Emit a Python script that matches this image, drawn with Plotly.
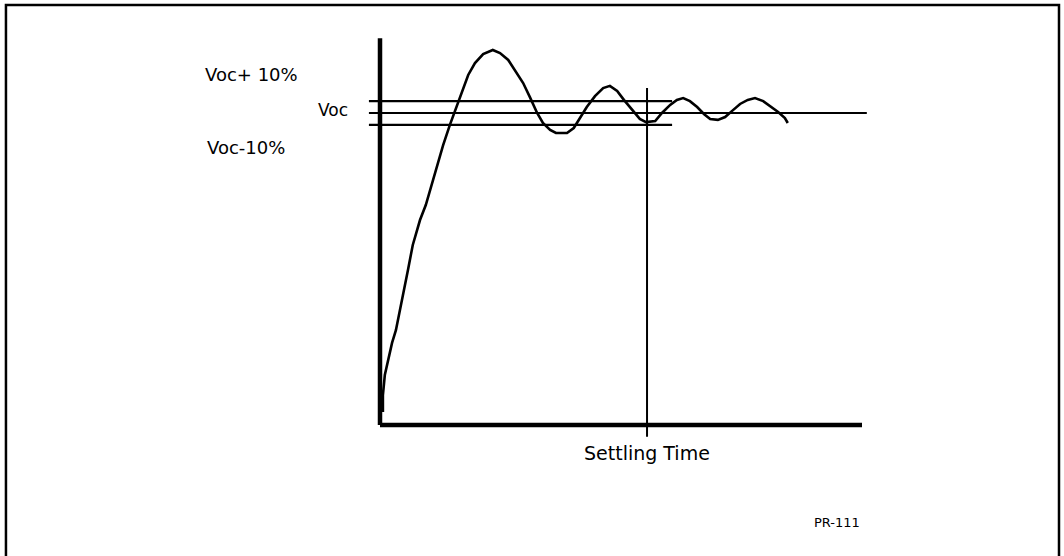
import plotly.graph_objects as go

# Response curve (time in arbitrary units, voltage normalised to Voc)
t = [0.06, 0.06, 0.10, 0.17, 0.25, 0.33, 0.46, 0.58, 0.68, 0.83, 0.95, 1.08, 1.18, 1.31,
     1.45, 1.54, 1.62, 1.72, 1.83, 1.97, 2.14, 2.34, 2.49, 2.66, 2.80, 2.97, 3.11, 3.26,
     3.38, 3.53, 3.65, 3.88, 4.02, 4.15, 4.29, 4.46, 4.63, 4.77, 4.92, 5.06, 5.23, 5.39,
     5.52, 5.71, 5.85, 6.02, 6.16, 6.29, 6.43, 6.58, 6.72, 6.85, 7.01, 7.16, 7.30, 7.47,
     7.63, 7.78, 7.95, 8.09, 8.26, 8.40, 8.46]
v = [0.042, 0.096, 0.160, 0.208, 0.263, 0.304, 0.401, 0.497, 0.577, 0.657, 0.705, 0.776,
     0.833, 0.897, 0.962, 1.000, 1.038, 1.080, 1.122, 1.160, 1.189, 1.202, 1.192, 1.170,
     1.138, 1.096, 1.051, 1.000, 0.968, 0.946, 0.936, 0.936, 0.952, 0.984, 1.019, 1.054,
     1.080, 1.087, 1.071, 1.042, 1.010, 0.981, 0.971, 0.974, 1.000, 1.026, 1.042, 1.048,
     1.038, 1.019, 0.997, 0.981, 0.978, 0.987, 1.006, 1.029, 1.042, 1.048, 1.038, 1.022,
     1.003, 0.984, 0.968]

# Reference levels
voc_hi = 1.038
voc = 1.000
voc_lo = 0.962
level_start = -0.23
band_end = 6.06
voc_end = 10.10

# Axes extents
t_axis_end = 10.0
v_axis_top = 1.240

# Settling time marker
t_settle = 5.54
settle_top = 1.080
settle_bottom = -0.038

labels = ["Voc+ 10%", "Voc", "Voc-10%", "Settling Time", "PR-111"]
label_t = [-2.66, -0.98, -2.78, 5.54, 9.48]
label_v = [1.122, 1.010, 0.891, -0.090, -0.311]
label_size = [18, 17, 18, 19, 13]

fig = go.Figure()
black = "#000000"

def seg(x, y, w):
    fig.add_trace(go.Scatter(x=x, y=y, mode="lines", line=dict(color=black, width=w),
                             hoverinfo="skip", showlegend=False))

# axes
seg([0, 0], [0, v_axis_top], 4.5)
seg([0, t_axis_end], [0, 0], 4.5)
# levels
seg([level_start, band_end], [voc_hi, voc_hi], 2.2)
seg([level_start, voc_end], [voc, voc], 2.2)
seg([level_start, band_end], [voc_lo, voc_lo], 2.2)
# settling
seg([t_settle, t_settle], [settle_bottom, settle_top], 2)
# curve
seg(t, v, 2.6)

for txt, x, y, s in zip(labels, label_t, label_v, label_size):
    fig.add_annotation(x=x, y=y, xref="x", yref="y", text=txt, showarrow=False,
                       font=dict(family="DejaVu Sans", size=s, color=black))

fig.add_shape(type="rect", xref="paper", yref="paper", x0=0.0056, x1=0.9953,
              y0=-0.05, y1=0.991, line=dict(color=black, width=2.5))

fig.update_xaxes(range=[-7.884, 14.191], visible=False)
fig.update_yaxes(range=[-0.4199, 1.3622], visible=False)
fig.update_layout(width=1064, height=556, margin=dict(l=0, r=0, t=0, b=0),
                  plot_bgcolor="white", paper_bgcolor="white", showlegend=False)

fig.write_html("out.html", config={"displayModeBar": False},
               post_script="document.body.style.margin='0';document.body.style.overflow='hidden';")
